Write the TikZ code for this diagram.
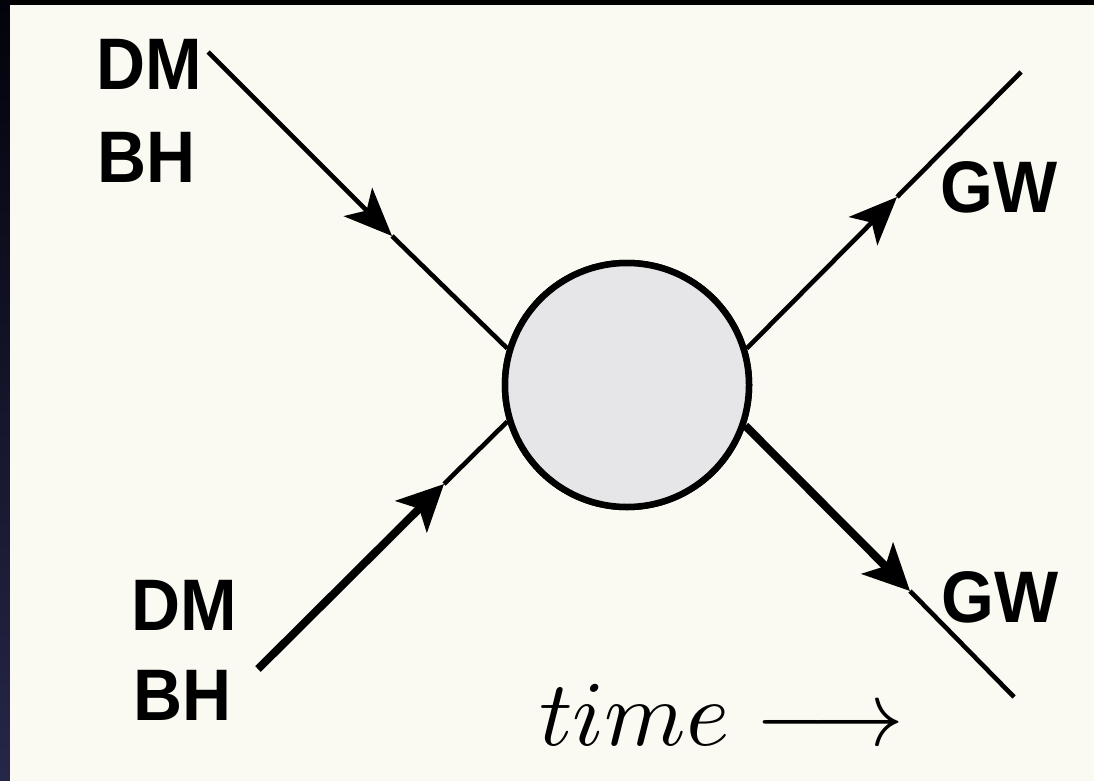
\documentclass[tikz,border=0pt]{standalone}
\usepackage{fontspec}
\setmainfont{Liberation Sans}
\usetikzlibrary{arrows.meta}
\definecolor{cream}{HTML}{FAFAF3}
\definecolor{blobfill}{HTML}{E6E6E8}
\definecolor{stripTop}{HTML}{03030C}
\definecolor{stripBot}{HTML}{262648}
\tikzset{
  lbl/.style={inner sep=0pt, anchor=base, font=\fontsize{73}{80}\selectfont\bfseries},
  thinline/.style={line width=4.6pt, black},
  thickline/.style={line width=8pt, black},
  tipA/.style={-{Stealth[length=48pt,width=40pt,inset=12pt]}},
  tipB/.style={-{Stealth[length=46pt,width=44pt,inset=11pt]}},
  blob/.style={circle, draw=black, line width=6.5pt, fill=blobfill, minimum size=244pt, inner sep=0pt}
}
\begin{document}
\begin{tikzpicture}[x=1pt,y=-1pt]
\useasboundingbox (0,0) rectangle (1094,781);
% frame and panel
\fill[black] (0,0) rectangle (1094,5);
\shade[top color=stripTop, bottom color=stripBot] (0,0) rectangle (10,781);
\fill[cream] (10,5) rectangle (1094,781);
% blob
\node[blob] (c) at (627,385) {};
% end points and arrow tips
\coordinate (tlS) at (208,52);
\coordinate (tlT) at (392,236);
\coordinate (blS) at (258,669);
\coordinate (blT) at (444,484);
\coordinate (trT) at (897,197);
\coordinate (trE) at (1021,72);
\coordinate (brT) at (910,591);
\coordinate (brE) at (1014,697);
% connectors
\draw[thinline, tipA] (tlS) -- (tlT);
\draw[thinline] (tlT) -- (c.163);
\draw[thickline, tipB] (blS) -- (blT);
\draw[thinline] (blT) -- (c.197);
\draw[thinline, tipA] (c.17) -- (trT);
\draw[thinline] (trT) -- (trE);
\draw[thickline, tipB] (c.-19) -- (brT);
\draw[thinline] (brT) -- (brE);
% redraw blob on top
\node[blob] at (627,385) {};
% labels
\node[lbl] (dm1) at (149,90) {\scalebox{0.93}[1]{DM}};
\node[lbl] (bh1) at (147,182) {\scalebox{0.93}[1]{BH}};
\node[lbl] (dm2) at (184,630) {\scalebox{0.93}[1]{DM}};
\node[lbl] (bh2) at (183,720) {\scalebox{0.93}[1]{BH}};
\node[lbl] (gw1) at (999,212) {\scalebox{0.93}[1]{GW}};
\node[lbl] (gw2) at (1000,622) {\scalebox{0.93}[1]{GW}};
\node[inner sep=0pt, anchor=base] (time) at (722,745) {\resizebox{365pt}{!}{$time\longrightarrow$}};
\end{tikzpicture}
\end{document}
